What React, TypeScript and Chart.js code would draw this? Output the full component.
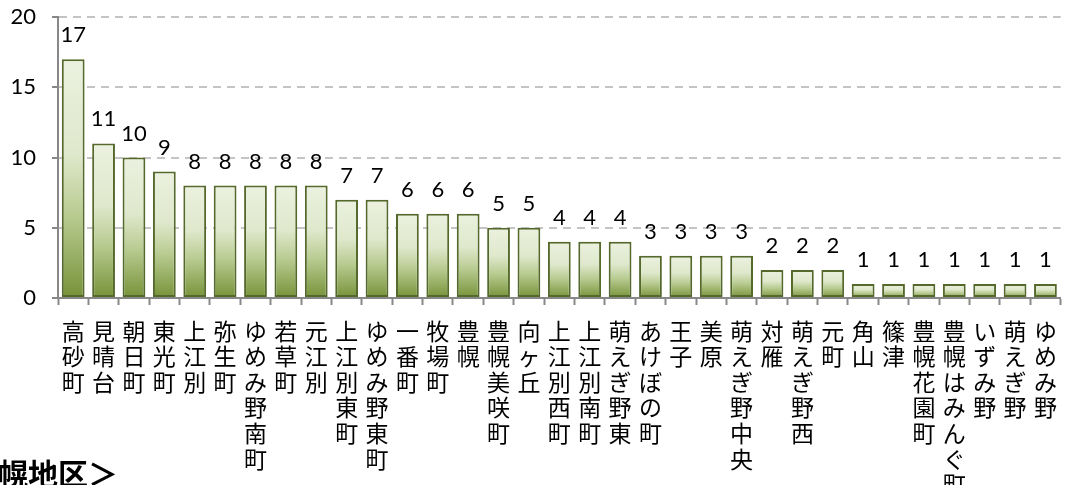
import React, { useEffect, useRef } from "react";
import { Chart, registerables } from "chart.js";

Chart.register(...registerables);

const categories: string[] = [
  "高砂町", "見晴台", "朝日町", "東光町", "上江別", "弥生町", "ゆめみ野南町", "若草町", "元江別",
  "上江別東町", "ゆめみ野東町", "一番町", "牧場町", "豊幌", "豊幌美咲町", "向ヶ丘", "上江別西町",
  "上江別南町", "萌えぎ野東", "あけぼの町", "王子", "美原", "萌えぎ野中央", "対雁", "萌えぎ野西",
  "元町", "角山", "篠津", "豊幌花園町", "豊幌はみんぐ町", "いずみ野", "萌えぎ野", "ゆめみ野",
];

const counts: number[] = [
  17, 11, 10, 9, 8, 8, 8, 8, 8, 7, 7, 6, 6, 6, 5, 5, 4, 4, 4, 3, 3, 3, 3, 2, 2, 2, 1, 1, 1, 1, 1, 1, 1,
];

const yTicks: number[] = [0, 5, 10, 15, 20];

const footerText = "＜豊幌地区＞";

const NUM_FONT = "Lato, 'Open Sans', sans-serif";
const CJK_FONT = "'Noto Sans CJK JP', sans-serif";

const dataLabelPlugin = {
  id: "dataLabels",
  afterDatasetsDraw(chart: any) {
    const ctx = chart.ctx;
    const meta = chart.getDatasetMeta(0);
    ctx.save();
    ctx.font = `22px ${NUM_FONT}`;
    ctx.fillStyle = "#000000";
    ctx.textAlign = "center";
    ctx.textBaseline = "alphabetic";
    meta.data.forEach((el: any, i: number) => {
      ctx.fillText(String(counts[i]), el.x, el.y - 17);
    });
    ctx.restore();
  },
};

export default function App() {
  const canvasRef = useRef<HTMLCanvasElement | null>(null);

  useEffect(() => {
    const canvas = canvasRef.current;
    if (!canvas) return;
    const chart = new Chart(canvas, {
      type: "bar",
      data: {
        labels: categories.map((c) => Array.from(c)),
        datasets: [
          {
            data: counts,
            backgroundColor: (context: any) => {
              const ch = context.chart;
              const ys = ch.scales && ch.scales.y;
              if (!ys || context.dataIndex === undefined) return "#c9d8a8";
              const v = counts[context.dataIndex] ?? 0;
              const top = ys.getPixelForValue(v);
              const bottom = ys.getPixelForValue(0);
              if (!isFinite(top) || !isFinite(bottom) || bottom - top < 1) return "#c9d8a8";
              const g = ch.ctx.createLinearGradient(0, top, 0, bottom);
              g.addColorStop(0, "#ebf1df");
              g.addColorStop(0.4, "#dfe8cc");
              g.addColorStop(0.65, "#b9cc92");
              g.addColorStop(1, "#769238");
              return g;
            },
            borderColor: "#55692c",
            borderWidth: 2,
            borderSkipped: false,
            barPercentage: 0.75,
            categoryPercentage: 1,
          },
        ],
      },
      options: {
        responsive: false,
        animation: false,
        devicePixelRatio: 1,
        layout: { padding: { top: 0, right: 4, bottom: 0, left: 0 } },
        plugins: {
          legend: { display: false },
          tooltip: { enabled: false },
        },
        scales: {
          x: {
            offset: true,
            grid: {
              offset: true,
              drawOnChartArea: false,
              drawTicks: true,
              tickLength: 7,
              tickColor: "#888888",
              tickWidth: 2,
            },
            border: { display: true, color: "#888888", width: 2 },
            ticks: {
              autoSkip: false,
              maxRotation: 0,
              minRotation: 0,
              padding: 13,
              color: "#000000",
              font: { family: CJK_FONT, size: 23, lineHeight: "25.6px" as any },
            },
            afterFit: (scale: any) => {
              scale.height = 187;
            },
          },
          y: {
            min: 0,
            max: 20,
            afterBuildTicks: (scale: any) => {
              scale.ticks = yTicks.map((v) => ({ value: v }));
            },
            grid: {
              color: "#c4c4c4",
              lineWidth: 2,
              drawTicks: true,
              tickLength: 6,
              tickColor: "#888888",
              tickWidth: 2,
            },
            border: { display: true, color: "#888888", width: 2, dash: [8, 6] },
            ticks: {
              autoSkip: false,
              padding: 16,
              color: "#000000",
              font: { family: NUM_FONT, size: 22, lineHeight: "2px" as any },
            },
            afterFit: (scale: any) => {
              scale.width = 58;
            },
          },
        },
      },
      plugins: [dataLabelPlugin],
    });
    return () => chart.destroy();
  }, []);

  return (
    <div
      style={{
        position: "fixed",
        left: 0,
        top: 0,
        width: 1070,
        height: 485,
        overflow: "hidden",
        background: "#ffffff",
      }}
    >
      <canvas ref={canvasRef} width={1070} height={485} style={{ position: "absolute", left: 0, top: 0 }} />
      <div
        style={{
          position: "absolute",
          left: -62,
          top: 457,
          fontFamily: CJK_FONT,
          fontSize: 30,
          fontWeight: "bold",
          lineHeight: 1,
          whiteSpace: "nowrap",
          color: "#000000",
        }}
      >
        {footerText}
      </div>
    </div>
  );
}
